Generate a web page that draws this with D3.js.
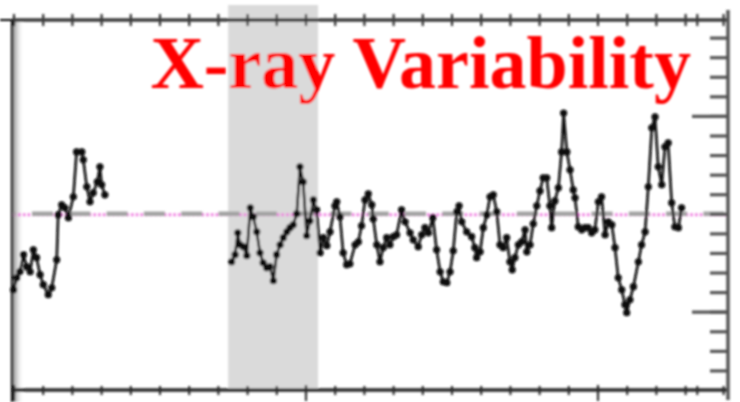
<!DOCTYPE html>
<html>
<head>
<meta charset="utf-8">
<script src="https://cdn.jsdelivr.net/npm/d3@7"></script>
<style>
  html, body { margin: 0; padding: 0; background: #ffffff; }
  svg { display: block; }
</style>
</head>
<body>
<div id="chart"></div>
<script>
// Light curve: normalised X-ray count rate against time (two observing windows)
const obs1Time = [0.00, 0.11, 0.22, 0.34, 0.45, 0.57, 0.68, 0.79, 0.91, 1.02, 1.19, 1.31, 1.48, 1.53,
  1.65, 1.76, 1.88, 2.05, 2.16, 2.34, 2.39, 2.51, 2.62, 2.73, 2.87, 2.96, 3.02, 3.13];
const obs1Rate = [0.612, 0.673, 0.704, 0.791, 0.730, 0.704, 0.816, 0.776, 0.689, 0.638, 0.587, 0.622, 0.765, 0.995,
  1.046, 1.031, 0.980, 1.087, 1.316, 1.316, 1.276, 1.138, 1.061, 1.107, 1.163, 1.240, 1.148, 1.097];

const obs2Time = [7.47, 7.59, 7.68, 7.76, 7.87, 7.99, 8.11, 8.21, 8.33, 8.44, 8.55, 8.67, 8.78, 8.90,
  9.01, 9.13, 9.24, 9.36, 9.47, 9.58, 9.70, 9.81, 9.92, 10.04, 10.15, 10.27, 10.38, 10.50,
  10.61, 10.73, 10.84, 11.01, 11.07, 11.18, 11.29, 11.41, 11.52, 11.70, 11.81, 11.92, 12.04, 12.15,
  12.27, 12.32, 12.44, 12.55, 12.66, 12.78, 12.89, 13.01, 13.12, 13.29, 13.41, 13.58, 13.69, 13.86,
  13.98, 14.09, 14.21, 14.36, 14.49, 14.61, 14.72, 14.84, 14.95, 15.06, 15.18, 15.26, 15.35, 15.52,
  15.69, 15.80, 15.86, 15.98, 16.09, 16.21, 16.32, 16.43, 16.55, 16.66, 16.77, 16.89, 17.00, 17.08,
  17.17, 17.29, 17.40, 17.52, 17.58, 17.69, 17.80, 17.92, 18.03, 18.14, 18.26, 18.37, 18.43, 18.54,
  18.66, 18.77, 18.84, 18.95, 19.06, 19.17, 19.23, 19.34, 19.46, 19.57, 19.68, 19.80, 19.91, 20.03,
  20.14, 20.26, 20.37, 20.49, 20.60, 20.71, 20.83, 20.94, 21.00, 21.11, 21.23, 21.40, 21.51, 21.63,
  21.74, 21.86, 21.97, 22.08, 22.20, 22.31, 22.42, 22.54, 22.65, 22.77, 22.88];
const obs2Rate = [0.755, 0.791, 0.903, 0.842, 0.832, 0.786, 1.031, 0.985, 0.908, 0.801, 0.750, 0.724, 0.730, 0.658,
  0.791, 0.842, 0.878, 0.908, 0.929, 0.944, 1.000, 1.240, 1.163, 0.888, 0.964, 1.071, 1.020, 0.801,
  0.878, 0.837, 0.908, 1.041, 1.061, 0.985, 0.801, 0.740, 0.745, 0.842, 0.857, 0.939, 1.071, 1.102,
  1.046, 0.974, 0.842, 0.755, 0.827, 0.878, 0.842, 0.883, 0.893, 1.020, 0.959, 0.903, 0.867, 0.832,
  0.893, 0.929, 0.903, 0.980, 0.816, 0.704, 0.653, 0.648, 0.704, 0.811, 1.010, 1.041, 0.959, 0.908,
  0.883, 0.827, 0.776, 0.806, 0.929, 0.995, 1.087, 1.097, 1.010, 0.842, 0.827, 0.878, 0.755, 0.714,
  0.776, 0.842, 0.857, 0.918, 0.806, 0.842, 0.949, 1.041, 1.117, 1.184, 1.184, 1.041, 0.929, 1.066,
  1.133, 1.316, 1.515, 1.316, 1.224, 1.122, 1.082, 0.934, 0.918, 0.929, 0.929, 0.903, 0.918, 1.061,
  1.087, 0.893, 0.959, 0.944, 0.827, 0.673, 0.612, 0.536, 0.495, 0.561, 0.628, 0.755, 0.842, 0.908,
  1.138, 1.439, 1.495, 1.240, 1.148, 1.342, 1.362, 1.056, 0.934, 0.929, 1.031];

const meanRate = 1.0;
const flareWindow = [7.35, 10.43];

const timeMinorTicks = [0, 1, 2, 3, 4, 5, 6, 7, 8, 9, 10, 11, 12, 13, 14, 15, 16, 17, 18, 19, 20, 21, 22, 23, 23.4, 24.3];
const timeMajorTicks = [0, 10, 20];
const rateMinorTicks = [0.2, 0.3, 0.4, 0.5, 0.6, 0.7, 0.8, 0.9, 1.0, 1.1, 1.2, 1.3, 1.4, 1.5, 1.6, 1.7, 1.8, 1.9];
const rateMajorTicks = [0.5, 1.5];

const titleText = "X-ray Variability";

const W = 740, H = 402;
const frame = { left: 12, right: 728, top: 20, bottom: 390 };

const x = d3.scaleLinear().domain([0, 10]).range([13.5, 305.5]);
const y = d3.scaleLinear().domain([0.1, 1.99]).range([frame.bottom, frame.top]);

const svg = d3.select("#chart").append("svg")
  .attr("width", W).attr("height", H)
  .attr("viewBox", `0 0 ${W} ${H}`);

const defs = svg.append("defs");
defs.append("filter").attr("id", "soft")
  .attr("x", "-5%").attr("y", "-5%").attr("width", "110%").attr("height", "110%")
  .append("feGaussianBlur").attr("stdDeviation", 0.8);
const grad = defs.append("linearGradient").attr("id", "edgeShade")
  .attr("x1", "0").attr("x2", "1").attr("y1", "0").attr("y2", "0");
grad.append("stop").attr("offset", "0").attr("stop-color", "#8e8e8e");
grad.append("stop").attr("offset", "1").attr("stop-color", "#ffffff").attr("stop-opacity", 0);

const root = svg.append("g").attr("filter", "url(#soft)");

// flare interval highlight
root.append("rect")
  .attr("x", x(flareWindow[0]))
  .attr("width", x(flareWindow[1]) - x(flareWindow[0]))
  .attr("y", 5)
  .attr("height", frame.bottom - 2 - 5)
  .attr("fill", "#dadada");

// shading along the left frame edge
root.append("rect")
  .attr("x", frame.left + 1).attr("y", frame.top)
  .attr("width", 11).attr("height", H - frame.top)
  .attr("fill", "url(#edgeShade)");

// mean level: pink dotted line with grey dashes over it
root.append("line")
  .attr("x1", x(0)).attr("x2", frame.right)
  .attr("y1", y(meanRate) + 1).attr("y2", y(meanRate) + 1)
  .attr("stroke", "#f07ce0").attr("stroke-width", 3)
  .attr("stroke-dasharray", "2.6 2.1");
root.append("line")
  .attr("x1", x(0)).attr("x2", frame.right - 3)
  .attr("y1", y(meanRate)).attr("y2", y(meanRate))
  .attr("stroke", "#a3a3a3").attr("stroke-width", 4.4)
  .attr("stroke-dasharray", "21 16.3")
  .attr("stroke-dashoffset", 18.8);

// right-hand rate axis (ticks point inward)
function rightAxis(values, len) {
  root.append("g")
    .attr("transform", `translate(${frame.right},0)`)
    .call(d3.axisLeft(y).tickValues(values).tickSize(len).tickFormat(""))
    .call(g => g.select(".domain").remove())
    .call(g => g.selectAll(".tick line").attr("stroke", "#555").attr("stroke-width", 3.2));
}
rightAxis(rateMinorTicks, 18);
rightAxis(rateMajorTicks, 36);

// time axes: ticks straddle the line
function timeAxis(yPos, values, up, down) {
  const g = root.append("g").attr("transform", `translate(0,${yPos})`);
  g.append("g").call(d3.axisTop(x).tickValues(values).tickSize(up).tickFormat(""))
    .call(s => s.select(".domain").remove())
    .call(s => s.selectAll(".tick line").attr("stroke", "#333").attr("stroke-width", 2.2));
  g.append("g").call(d3.axisBottom(x).tickValues(values).tickSize(down).tickFormat(""))
    .call(s => s.select(".domain").remove())
    .call(s => s.selectAll(".tick line").attr("stroke", "#333").attr("stroke-width", 2.2));
}
timeAxis(frame.top, timeMinorTicks, 6, 6);
timeAxis(frame.bottom, timeMinorTicks, 4, 5);
timeAxis(frame.bottom, timeMajorTicks, 5, 11);

// frame lines
root.append("line").attr("x1", frame.left).attr("x2", frame.right + 1)
  .attr("y1", frame.top).attr("y2", frame.top)
  .attr("stroke", "#3a3a3a").attr("stroke-width", 3.5);
root.append("line").attr("x1", 0).attr("x2", frame.left)
  .attr("y1", frame.top).attr("y2", frame.top)
  .attr("stroke", "#000").attr("stroke-width", 2);
root.append("line").attr("x1", frame.left).attr("x2", frame.right + 1)
  .attr("y1", frame.bottom).attr("y2", frame.bottom)
  .attr("stroke", "#2a2a2a").attr("stroke-width", 3.5);
root.append("line").attr("x1", frame.left).attr("x2", frame.left)
  .attr("y1", frame.top).attr("y2", H)
  .attr("stroke", "#000").attr("stroke-width", 2.2);
root.append("line").attr("x1", frame.right).attr("x2", frame.right)
  .attr("y1", 10).attr("y2", H - 2)
  .attr("stroke", "#555").attr("stroke-width", 3.5);

// light-curve segments
const line = d3.line().x(d => x(d[0])).y(d => y(d[1]));
[[obs1Time, obs1Rate], [obs2Time, obs2Rate]].forEach(([t, r]) => {
  const pts = t.map((v, i) => [v, r[i]]);
  const g = root.append("g");
  g.append("path").datum(pts).attr("d", line)
    .attr("fill", "none").attr("stroke", "#0a0a0a").attr("stroke-width", 2.6)
    .attr("stroke-linejoin", "round");
  g.selectAll("circle").data(pts).join("circle")
    .attr("cx", d => x(d[0])).attr("cy", d => y(d[1]))
    .attr("r", 3.6).attr("fill", "#0a0a0a");
});

// title
root.append("text")
  .attr("x", 691).attr("y", 88)
  .attr("text-anchor", "end")
  .attr("font-family", "'Liberation Serif', 'Times New Roman', serif")
  .attr("font-weight", "bold")
  .attr("font-size", 74)
  .attr("fill", "#ff0000")
  .text(titleText);
</script>
</body>
</html>
